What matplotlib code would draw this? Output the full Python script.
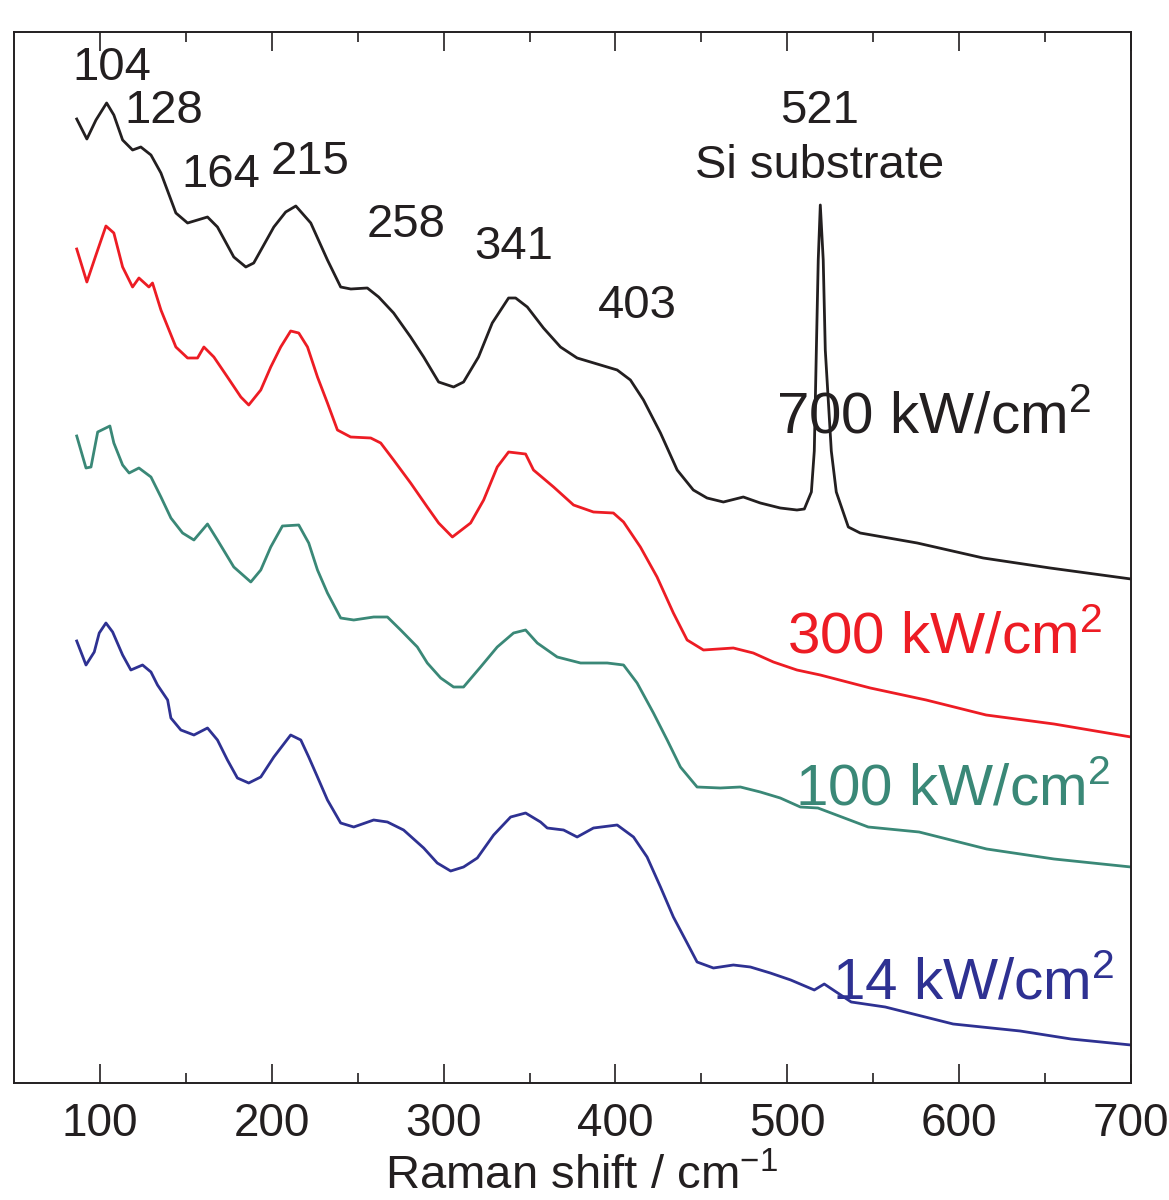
import matplotlib
matplotlib.use("Agg")
import matplotlib.pyplot as plt

plt.rcParams['font.family'] = ['Liberation Sans', 'DejaVu Sans']
plt.rcParams['mathtext.fontset'] = 'custom'
plt.rcParams['mathtext.rm'] = 'Liberation Sans'
plt.rcParams['mathtext.it'] = 'Liberation Sans:italic'
plt.rcParams['mathtext.bf'] = 'Liberation Sans:bold'

# Raman spectra, stacked (intensity in a.u., offset already applied)
shift_700 = [86.5, 92.4, 97.7, 103.9, 108.1, 113.2, 119.0, 123.8, 129.7, 135.5, 144.2, 151.0,
             162.6, 168.4, 177.9, 184.9, 189.5, 201.2, 208.1, 214.0, 222.7, 232.4, 240.1, 246.0,
             255.6, 262.2, 270.9, 280.8, 288.4, 297.1, 305.8, 311.6, 320.3, 328.3, 337.8, 341.9,
             348.7, 358.1, 368.0, 377.7, 391.3, 401.0, 408.7, 416.3, 426.2, 435.9, 445.3, 453.3,
             462.8, 474.4, 484.3, 495.9, 505.6, 509.9, 514.0, 515.7, 516.9, 518.0, 519.2, 520.9,
             522.1, 525.6, 528.5, 535.5, 542.4, 575.6, 614.0, 652.9, 700.0]
int_700 = [964, 944, 963, 980, 968, 943, 933, 936, 928, 910, 870, 860,
           866, 856, 826, 816, 820, 856, 871, 877, 860, 823, 796, 794,
           795, 786, 770, 746, 726, 701, 696, 701, 726, 760, 785, 785,
           776, 755, 736, 725, 718, 713, 703, 683, 650, 613, 593, 585,
           581, 586, 580, 575, 573, 574, 591, 632, 733, 823, 878, 823,
           733, 632, 591, 556, 550, 540, 525, 515, 504]

shift_300 = [86.5, 92.4, 97.7, 103.5, 108.1, 113.2, 119.0, 122.7, 128.5, 130.6, 135.5, 144.2,
             151.0, 156.8, 160.5, 166.3, 174.2, 182.0, 186.6, 193.6, 199.4, 205.2, 211.0, 215.7,
             220.8, 226.6, 232.4, 238.2, 245.9, 257.6, 263.4, 270.9, 280.8, 290.5, 297.1, 305.1,
             315.7, 323.3, 331.2, 337.8, 347.7, 352.3, 364.0, 375.6, 387.2, 398.8, 404.7, 414.5,
             424.2, 433.7, 441.7, 451.2, 468.6, 480.2, 491.9, 505.6, 519.2, 548.3, 580.8, 615.7,
             655.2, 700.0]
int_300 = [834, 801, 828, 857, 850, 816, 796, 805, 796, 800, 773, 736,
           725, 725, 736, 726, 706, 686, 678, 693, 716, 736, 752, 750,
           736, 706, 680, 653, 646, 645, 640, 623, 600, 576, 560, 546,
           560, 583, 616, 631, 629, 613, 596, 578, 571, 570, 561, 536,
           506, 470, 443, 433, 435, 430, 421, 413, 408, 395, 383, 368,
           359, 346]

shift_100 = [86.5, 91.9, 94.8, 98.7, 105.8, 108.1, 113.2, 117.0, 122.7, 129.7, 135.5, 141.3,
             148.1, 154.7, 162.6, 168.4, 177.9, 187.8, 193.6, 199.4, 206.2, 215.7, 221.5, 226.6,
             232.4, 240.1, 247.7, 259.3, 267.3, 275.0, 284.7, 290.5, 298.3, 305.8, 311.6, 321.5,
             331.2, 340.7, 347.7, 354.5, 366.1, 379.7, 395.2, 404.7, 412.6, 422.1, 430.1, 437.8,
             447.5, 461.0, 472.7, 484.3, 495.9, 507.6, 517.8, 547.1, 576.7, 616.0, 655.2, 700.0]
int_100 = [647, 615, 616, 651, 657, 640, 618, 610, 615, 606, 586, 565,
           550, 543, 559, 543, 516, 501, 513, 536, 557, 558, 540, 513,
           490, 465, 463, 466, 466, 453, 436, 420, 405, 396, 396, 416,
           436, 450, 453, 440, 426, 420, 420, 418, 400, 370, 343, 316,
           296, 295, 296, 291, 285, 276, 275, 256, 251, 234, 224, 216]

shift_14 = [86.5, 91.9, 96.7, 99.6, 103.5, 107.4, 113.2, 118.0, 124.8, 129.7, 133.5, 139.4,
            141.3, 147.1, 154.7, 162.6, 168.4, 174.2, 180.0, 186.6, 193.6, 201.2, 211.0, 216.9,
            221.5, 226.6, 232.4, 240.1, 247.7, 259.3, 267.3, 276.7, 288.4, 296.3, 304.1, 311.6,
            319.6, 329.1, 339.0, 347.7, 356.4, 360.3, 369.8, 377.7, 387.2, 401.0, 410.5, 418.4,
            426.2, 433.7, 441.7, 447.5, 457.0, 468.6, 478.5, 490.1, 502.0, 515.7, 521.5, 537.2,
            557.0, 596.5, 635.5, 665.1, 700.0]
int_14 = [442, 418, 431, 450, 460, 451, 428, 413, 418, 411, 398, 383,
          365, 353, 348, 355, 343, 323, 305, 300, 306, 326, 348, 343,
          326, 306, 283, 260, 256, 263, 261, 253, 235, 220, 212, 216,
          225, 248, 266, 270, 261, 255, 253, 246, 255, 258, 246, 226,
          196, 166, 140, 121, 115, 118, 116, 110, 103, 93, 99, 81,
          76, 59, 52, 44, 38]

series = [
    (shift_700, int_700, '#231f20', '700 kW/cm$^2$', (493.6, 649)),
    (shift_300, int_300, '#ed1c24', '300 kW/cm$^2$', (500.0, 430)),
    (shift_100, int_100, '#3a8877', '100 kW/cm$^2$', (504.7, 277)),
    (shift_14, int_14, '#2e3192', '14 kW/cm$^2$', (526.2, 84)),
]

# peak labels: text, x, y (baseline)
peak_labels = [('104', 107.0, 1003), ('128', 137.2, 960), ('164', 170.3, 896),
               ('215', 222.1, 909), ('258', 277.9, 846), ('341', 340.7, 824),
               ('403', 412.8, 765), ('521', 518.6, 960), ('Si substrate', 518.6, 905)]

fig = plt.figure(figsize=(11.69, 12), dpi=100)
ax = fig.add_axes([14/1169, 1 - 1083/1200, (1131 - 14)/1169, (1083 - 32)/1200])

for x, y, col, lab, pos in series:
    ax.plot(x, y, color=col, lw=2.0)
    ax.text(pos[0], pos[1], lab, color=col, fontsize=42, ha='left', va='baseline')

for t, x, y in peak_labels:
    ax.text(x, y, t, color='#231f20', fontsize=34, ha='center', va='baseline')

ax.set_xlim(50, 700)
ax.set_ylim(0, 1051)
ax.set_xticks([100, 200, 300, 400, 500, 600, 700])
ax.set_xticks([150, 250, 350, 450, 550, 650], minor=True)
ax.set_yticks([])
ax.tick_params(axis='x', which='both', direction='in', top=True, bottom=True,
               labelsize=33, pad=14, color='#231f20', labelcolor='#231f20')
ax.tick_params(axis='x', which='major', length=14, width=1.2)
ax.tick_params(axis='x', which='minor', length=7, width=1.2)
for s in ax.spines.values():
    s.set_linewidth(1.4)
    s.set_color('#231f20')

ax.set_xlabel('Raman shift / cm$^{-1}$', fontsize=34, color='#231f20', labelpad=6)
ax.xaxis.label.set_x(0.508)

plt.savefig('out.png', dpi=100)
